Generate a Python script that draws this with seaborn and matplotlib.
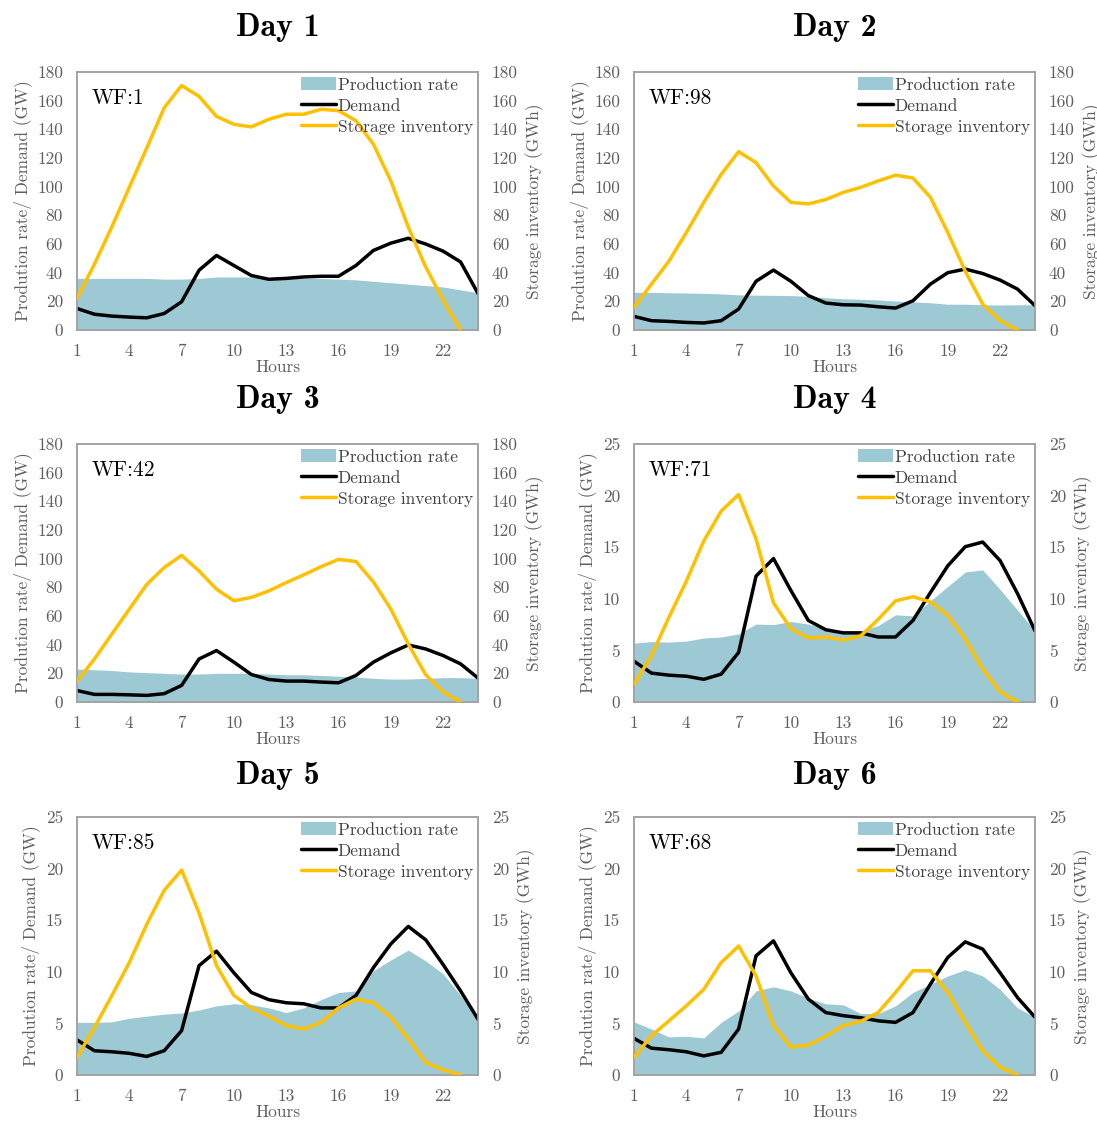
import numpy as np
import pandas as pd
import matplotlib
matplotlib.use("Agg")
import matplotlib.pyplot as plt
import seaborn as sns
from matplotlib.patches import Patch
from matplotlib.lines import Line2D

# ---------------- data ----------------
hours = list(range(1, 25))
storage_hours = list(range(1, 24))
xticks = [1, 4, 7, 10, 13, 16, 19, 22]

day_titles = ["Day 1", "Day 2", "Day 3", "Day 4", "Day 5", "Day 6"]
wf_labels = ["WF:1", "WF:98", "WF:42", "WF:71", "WF:85", "WF:68"]
y_max = [180, 180, 180, 25, 25, 25]
y_step = [20, 20, 20, 5, 5, 5]

prod_day1 = [36, 36, 36, 36, 36, 35.5, 35.5, 36, 37, 37, 37, 36.5, 36, 36, 36, 35.5,
             35, 34, 33, 32, 31, 30, 28, 26]
demand_day1 = [15, 11, 9.7, 9, 8.5, 11.5, 19.7, 41.7, 52, 45, 38, 35.4, 36, 37, 37.5, 37.5,
               45, 55.5, 60.6, 64, 60, 55, 47.5, 25.5]
storage_day1 = [22, 46, 72, 99.5, 127, 155, 170.6, 163, 149, 143.5, 141.7, 147, 150.5, 150.5,
                154, 153, 146, 129.6, 104, 71.8, 44, 20.8, 0]

prod_day2 = [26.3, 26.2, 26, 25.8, 25.6, 25.2, 24.5, 24.3, 24.2, 24, 23.5, 22.5, 21.8, 21.4,
             21, 20.2, 19.6, 19, 18, 18, 17.6, 17.4, 17.6, 17.6]
demand_day2 = [9.5, 6.5, 6, 5.3, 4.9, 6.5, 14.6, 34, 41.8, 34, 24, 18.8, 17.6, 17.4, 16.2, 15.3,
               20.4, 32, 40, 42.5, 39.4, 34.8, 28.5, 17]
storage_day2 = [15.8, 32, 48, 68, 89, 108.6, 124.4, 116.7, 100.5, 89, 88, 91, 96, 99.5, 104,
                108, 106, 92.6, 68, 41, 18, 6.5, 0]

prod_day3 = [23, 22.5, 22, 21, 20.5, 20, 19.5, 19.5, 20, 20, 20, 19.5, 19, 19, 18.5, 18,
             17.5, 16.5, 16, 16, 16.5, 17, 17, 16.5]
demand_day3 = [8, 5.3, 5.3, 5, 4.6, 5.8, 11.6, 30, 35.9, 27.8, 19.2, 15.7, 14.6, 14.6, 13.9,
               13.4, 18.5, 27.8, 34.3, 39.8, 37, 32.4, 26.6, 16.7]
storage_day3 = [14.4, 30, 47.5, 64.8, 82, 93.8, 102.3, 91.4, 78.7, 70.6, 73, 77.5, 83.3, 88.7,
                94.4, 99.5, 98, 83.8, 64.8, 40.5, 19, 7, 0]

prod_day4 = [5.7, 5.85, 5.8, 5.9, 6.2, 6.3, 6.6, 7.55, 7.5, 7.8, 7.55, 7.1, 6.8, 6.9, 7.4,
             8.45, 8.35, 9.8, 11.2, 12.6, 12.8, 10.9, 8.9, 6.9]
demand_day4 = [3.95, 2.8, 2.6, 2.5, 2.2, 2.7, 4.8, 12.2, 13.9, 10.8, 7.9, 7.0, 6.7, 6.7, 6.3,
               6.3, 7.9, 10.6, 13.2, 15.05, 15.5, 13.7, 10.5, 6.9]
storage_day4 = [1.7, 4.5, 8.2, 11.7, 15.6, 18.5, 20.1, 15.8, 9.6, 7.1, 6.2, 6.3, 6.0, 6.4,
                8.0, 9.8, 10.2, 9.7, 8.4, 6.1, 3.2, 1.0, 0]

prod_day5 = [5.1, 5.1, 5.15, 5.5, 5.7, 5.9, 6.0, 6.3, 6.7, 6.9, 6.8, 6.5, 6.05, 6.5, 7.3,
             8.0, 8.15, 10.1, 11.15, 12.1, 11.05, 9.8, 7.7, 5.4]
demand_day5 = [3.4, 2.35, 2.25, 2.1, 1.8, 2.35, 4.3, 10.6, 12.0, 9.9, 8.0, 7.3, 7.0, 6.9,
               6.5, 6.5, 7.7, 10.4, 12.7, 14.4, 13.1, 10.7, 8.15, 5.4]
storage_day5 = [1.7, 4.6, 7.7, 10.9, 14.6, 17.9, 19.85, 15.7, 10.6, 7.7, 6.5, 5.7, 4.8, 4.45,
                5.1, 6.5, 7.35, 7.0, 5.6, 3.5, 1.2, 0.5, 0]

prod_day6 = [5.15, 4.45, 3.7, 3.75, 3.6, 5.1, 6.2, 8.15, 8.55, 8.15, 7.45, 6.9, 6.8, 5.95,
             5.95, 6.7, 8.0, 8.8, 9.6, 10.2, 9.6, 8.3, 6.5, 5.6]
demand_day6 = [3.55, 2.6, 2.45, 2.25, 1.85, 2.2, 4.45, 11.55, 13.0, 9.9, 7.35, 6.05, 5.75,
               5.55, 5.25, 5.1, 6.05, 8.8, 11.4, 12.9, 12.2, 9.9, 7.5, 5.6]
storage_day6 = [1.7, 3.8, 5.25, 6.7, 8.3, 10.9, 12.5, 9.6, 4.8, 2.7, 2.9, 3.75, 4.8, 5.2,
                6.05, 8.0, 10.1, 10.1, 8.0, 5.1, 2.35, 0.75, 0]

prods = [prod_day1, prod_day2, prod_day3, prod_day4, prod_day5, prod_day6]
demands = [demand_day1, demand_day2, demand_day3, demand_day4, demand_day5, demand_day6]
storages = [storage_day1, storage_day2, storage_day3, storage_day4, storage_day5, storage_day6]

# ---------------- style ----------------
sns.set_style("white")
plt.rcParams["font.family"] = ["cmr10", "DejaVu Serif"]
plt.rcParams["axes.unicode_minus"] = False
plt.rcParams["mathtext.fontset"] = "cm"

PROD_C = "#9dc9d4"
STOR_C = "#ffc000"
DEM_C = "#000000"
GRAY = "#5f5f5f"
SPINE = "#a3a3a3"

W, H = 1097, 1122
fig = plt.figure(figsize=(W / 100, H / 100), dpi=100)

col_left = [77, 634]
row_top = [72, 444, 817]
ax_w, ax_h = 401, 258
title_y = [27, 400, 775]

for i in range(6):
    r, c = divmod(i, 2)
    left = col_left[c] / W
    bottom = 1 - (row_top[r] + ax_h) / H
    ax = fig.add_axes([left, bottom, ax_w / W, ax_h / H])
    ax2 = ax.twinx()

    df = pd.DataFrame({"hour": hours, "prod": prods[i], "demand": demands[i]})
    dfs = pd.DataFrame({"hour": storage_hours, "storage": storages[i]})

    ax.fill_between(df["hour"], 0, df["prod"], color=PROD_C, linewidth=0, zorder=1)
    sns.lineplot(data=df, x="hour", y="demand", ax=ax, color=DEM_C, linewidth=2.5,
                 zorder=3, legend=False)
    sns.lineplot(data=dfs, x="hour", y="storage", ax=ax2, color=STOR_C, linewidth=2.5,
                 zorder=3, legend=False)
    for ln in ax.get_lines() + ax2.get_lines():
        ln.set_solid_joinstyle("round")
        ln.set_solid_capstyle("round")

    ticks = np.arange(0, y_max[i] + 0.1, y_step[i])
    for a in (ax, ax2):
        a.set_xlim(1, 24)
        a.set_ylim(0, y_max[i])
        a.set_yticks(ticks)
        a.set_yticklabels([f"{int(t)}" for t in ticks])
        a.tick_params(length=0, labelsize=12.5, colors=GRAY, pad=10)
        for s in a.spines.values():
            s.set_color(SPINE)
            s.set_linewidth(1.2)
    ax.set_xticks(xticks)
    ax.set_xticklabels([str(t) for t in xticks])
    ax.set_xlabel("Hours", fontsize=12.5, color=GRAY, labelpad=0)
    ax.set_ylabel("Prodution rate/ Demand (GW)", fontsize=12.5, color=GRAY, labelpad=4)
    ax2.set_ylabel("Storage inventory (GWh)", fontsize=12.5, color=GRAY, labelpad=5)
    ax.grid(False)
    ax2.grid(False)

    ax.text(0.037, 0.935, wf_labels[i], transform=ax.transAxes, fontsize=15.5,
            va="top", ha="left", color="black")

    handles = [Patch(facecolor=PROD_C, edgecolor="none"),
               Line2D([0], [0], color=DEM_C, linewidth=2.5),
               Line2D([0], [0], color=STOR_C, linewidth=2.5)]
    leg = ax2.legend(handles, ["Production rate", "Demand", "Storage inventory"],
                     loc="upper right", frameon=False, fontsize=12.5,
                     handlelength=2.0, handleheight=0.8, handletextpad=0.1,
                     labelspacing=0.3, borderaxespad=0.1, borderpad=0.2)
    for t in leg.get_texts():
        t.set_color("#404040")

    cx = (col_left[c] + ax_w / 2) / W
    fig.text(cx, 1 - title_y[r] / H, day_titles[i], ha="center", va="center",
             fontsize=23, fontfamily=["cmb10", "DejaVu Serif"], fontweight="bold",
             color="black")

fig.savefig("out.png", dpi=100)
